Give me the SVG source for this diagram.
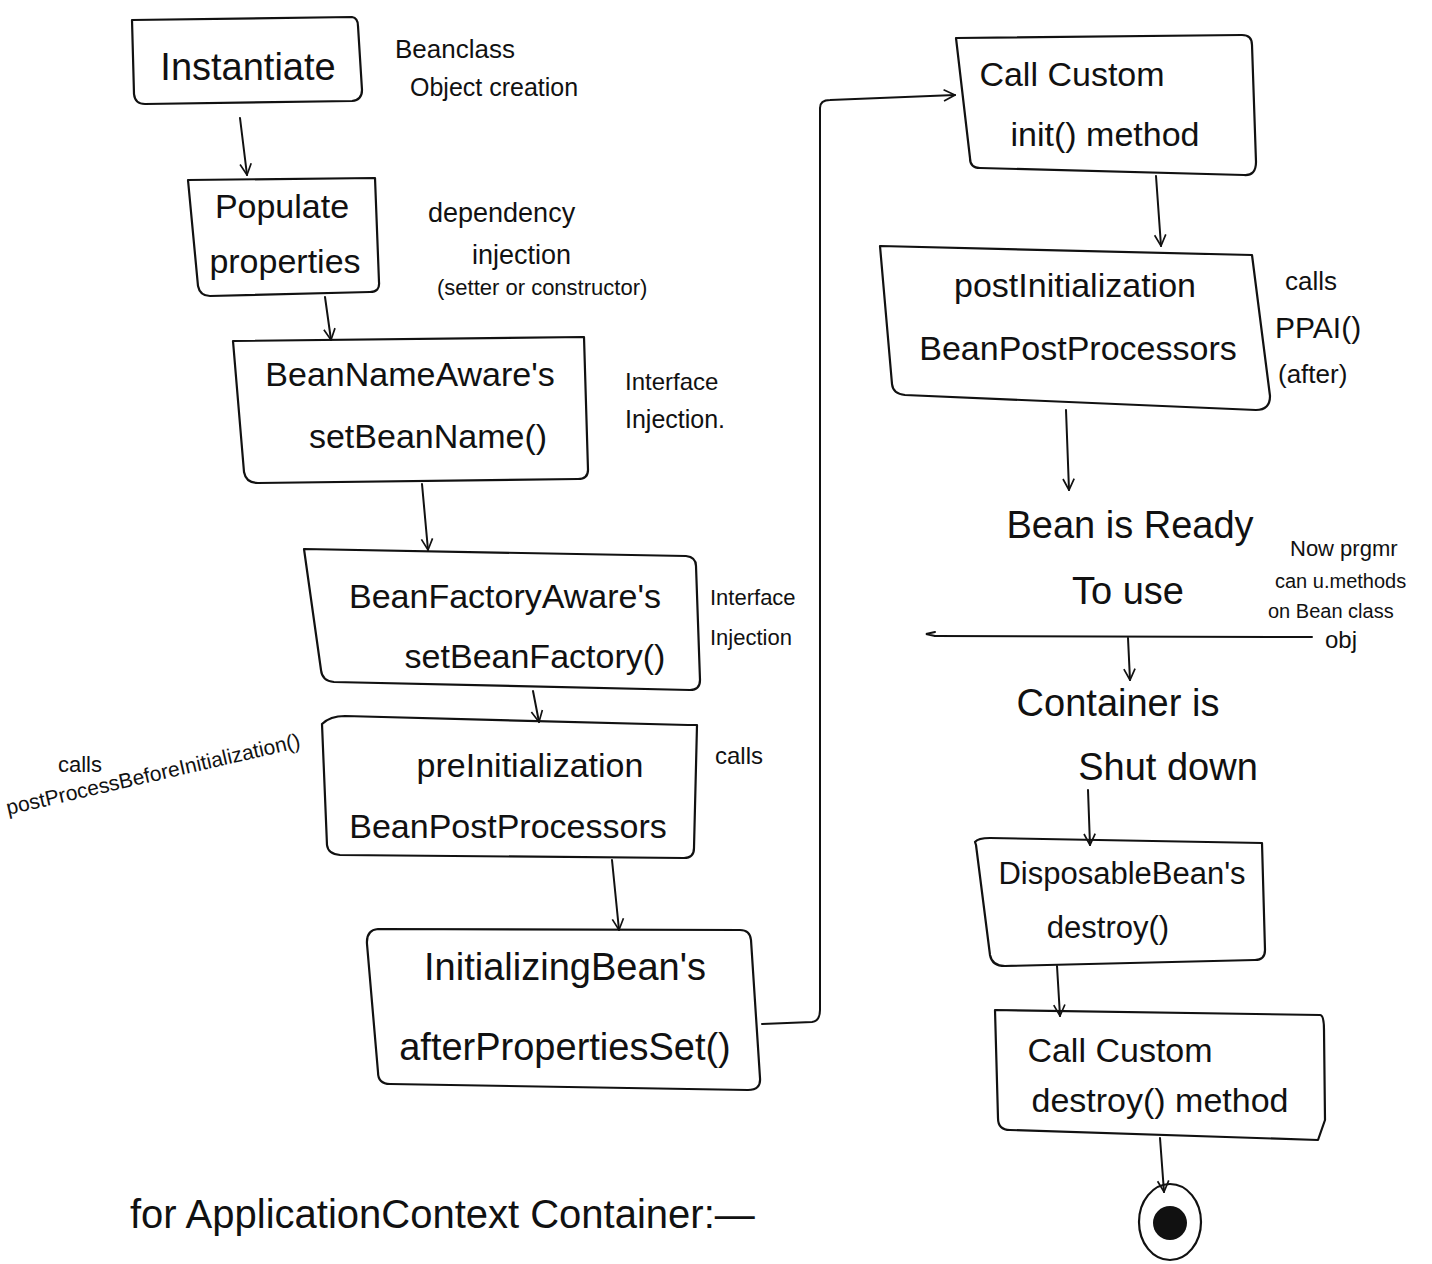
<svg xmlns="http://www.w3.org/2000/svg" width="1432" height="1264" viewBox="0 0 1432 1264">
<style>
.box{fill:none;stroke:#111;stroke-width:2.2;stroke-linejoin:round;stroke-linecap:round}
.con{fill:none;stroke:#111;stroke-width:2;stroke-linecap:round}
.t{font-family:"Liberation Sans",Arial,sans-serif;fill:#111;font-size:34px;text-anchor:middle}
.big{font-size:38px}
.a{font-family:"Liberation Sans",Arial,sans-serif;fill:#111;font-size:20px}
.s18{font-size:18px}
.s21{font-size:21px}
.s22{font-size:22px}
.s24{font-size:24px}
.s25{font-size:25px}
.s26{font-size:26px}
.s27{font-size:27px}
.s30{font-size:30px}
.cap{font-size:40px}
.d{font-size:31px}
</style>
<defs>
<marker id="arr" viewBox="0 0 20 20" refX="18" refY="10" markerWidth="14" markerHeight="14" markerUnits="userSpaceOnUse" orient="auto">
<path d="M2,2 L18,10 L2,18" fill="none" stroke="#111" stroke-width="2.4"/>
</marker>
</defs>
<rect width="1432" height="1264" fill="#fff"/>

<g id="connectors">
<path class="con" d="M240,118 L247,175" marker-end="url(#arr)"/>
<path class="con" d="M325,297 L331,340" marker-end="url(#arr)"/>
<path class="con" d="M422,484 L428,550" marker-end="url(#arr)"/>
<path class="con" d="M533,691 L539,722" marker-end="url(#arr)"/>
<path class="con" d="M612,860 L619,930" marker-end="url(#arr)"/>
<path class="con" d="M762,1024 L812,1022 Q820,1021 820,1010 L820,108 Q820,100 830,100 L955,95" marker-end="url(#arr)"/>
<path class="con" d="M1156,176 L1161,246" marker-end="url(#arr)"/>
<path class="con" d="M1066,410 L1069,490" marker-end="url(#arr)"/>
<path class="con" d="M1128,638 L1130,680" marker-end="url(#arr)"/>
<path class="con" d="M1088,790 L1090,845" marker-end="url(#arr)"/>
<path class="con" d="M1057,966 L1060,1016" marker-end="url(#arr)"/>
<path class="con" d="M1160,1138 L1164,1192" marker-end="url(#arr)"/>
<path class="con" d="M1312,637 L935,636"/>
<path class="con" d="M935,636 L926,634 L935,632"/>
</g>

<g id="n-instantiate">
<path class="box" d="M132,20 L352,17 Q358,18 358,26 L362,90 Q362,100 352,101 L145,104 Q135,104 134,94 Z"/>
<text class="t big" x="248" y="80">Instantiate</text>
<text class="a s26" x="395" y="58">Beanclass</text>
<text class="a s25" x="410" y="96">Object creation</text>
</g>

<g id="n-populate">
<path class="box" d="M188,180 L375,178 L379,282 Q380,292 370,292 L210,296 Q200,296 198,286 Z"/>
<text class="t" x="282" y="218">Populate</text>
<text class="t" x="285" y="273">properties</text>
<text class="a s27" x="428" y="222">dependency</text>
<text class="a s27" x="472" y="264">injection</text>
<text class="a s22" x="437" y="295">(setter or constructor)</text>
</g>

<g id="n-beannameaware">
<path class="box" d="M233,341 L584,337 L588,470 Q588,479 578,479 L258,483 Q246,483 244,472 Z"/>
<text class="t" x="410" y="386">BeanNameAware's</text>
<text class="t" x="428" y="448">setBeanName()</text>
<text class="a s24" x="625" y="390">Interface</text>
<text class="a s25" x="625" y="428">Injection.</text>
</g>

<g id="n-beanfactoryaware">
<path class="box" d="M304,549 L686,556 Q696,557 696,566 L700,680 Q700,690 690,690 L334,682 Q322,681 321,670 Z"/>
<text class="t" x="505" y="608">BeanFactoryAware's</text>
<text class="t" x="535" y="668">setBeanFactory()</text>
<text class="a s22" x="710" y="605">Interface</text>
<text class="a s22" x="710" y="645">Injection</text>
</g>

<g id="n-preinit">
<path class="box" d="M322,724 Q330,716 345,716 L688,725 L697,725 L694,848 Q694,858 684,858 L340,855 Q328,854 327,845 Z"/>
<text class="t" x="530" y="777">preInitialization</text>
<text class="t" x="508" y="838">BeanPostProcessors</text>
<text class="a s24" x="715" y="764">calls</text>
<text class="a s22" x="58" y="772">calls</text>
<text class="a s21" x="0" y="0" transform="translate(8,815) rotate(-13)">postProcessBeforeInitialization()</text>
</g>

<g id="n-initializingbean">
<path class="box" d="M378,929 L740,930 Q750,930 751,940 L760,1078 Q761,1090 748,1090 L390,1084 Q378,1084 378,1072 L367,944 Q366,930 378,929 Z"/>
<text class="t big" x="565" y="980">InitializingBean's</text>
<text class="t big" x="565" y="1060">afterPropertiesSet()</text>
</g>

<g id="n-custominit">
<path class="box" d="M956,38 L1242,35 Q1252,35 1252,45 L1256,162 Q1256,176 1244,175 L980,168 Q970,168 970,158 Z"/>
<text class="t" x="1072" y="86">Call Custom</text>
<text class="t" x="1105" y="146">init() method</text>
</g>

<g id="n-postinit">
<path class="box" d="M880,246 L1252,255 L1270,396 Q1270,410 1256,410 L905,395 Q893,394 892,384 Z"/>
<text class="t" x="1075" y="297">postInitialization</text>
<text class="t" x="1078" y="360">BeanPostProcessors</text>
<text class="a s26" x="1285" y="290">calls</text>
<text class="a s30" x="1275" y="338">PPAI()</text>
<text class="a s26" x="1278" y="383">(after)</text>
</g>

<g id="n-ready">
<text class="t big" x="1130" y="538">Bean is Ready</text>
<text class="t big" x="1128" y="604">To use</text>
<text class="a s22" x="1290" y="556">Now prgmr</text>
<text class="a" x="1275" y="588">can u.methods</text>
<text class="a" x="1268" y="618">on Bean class</text>
<text class="a s24" x="1325" y="648">obj</text>
</g>

<g id="n-shutdown">
<text class="t big" x="1118" y="716">Container is</text>
<text class="t big" x="1168" y="780">Shut down</text>
</g>

<g id="n-disposable">
<path class="box" d="M975,842 Q978,838 990,838 L1262,843 L1265,950 Q1265,960 1255,960 L1005,966 Q992,966 990,955 L976,845 Z"/>
<text class="t d" x="1122" y="884">DisposableBean's</text>
<text class="t d" x="1108" y="938">destroy()</text>
</g>

<g id="n-customdestroy">
<path class="box" d="M995,1010 L1320,1015 Q1324,1015 1324,1030 L1325,1120 L1318,1140 L1010,1130 Q998,1130 998,1118 Z"/>
<text class="t" x="1120" y="1062">Call Custom</text>
<text class="t" x="1160" y="1112">destroy() method</text>
</g>

<g id="n-end">
<ellipse cx="1170" cy="1222" rx="31" ry="38" fill="none" stroke="#111" stroke-width="2.2"/>
<circle cx="1170" cy="1223" r="17" fill="#111"/>
</g>

<g id="caption">
<text class="a cap" x="130" y="1228">for ApplicationContext Container:—</text>
</g>
</svg>
